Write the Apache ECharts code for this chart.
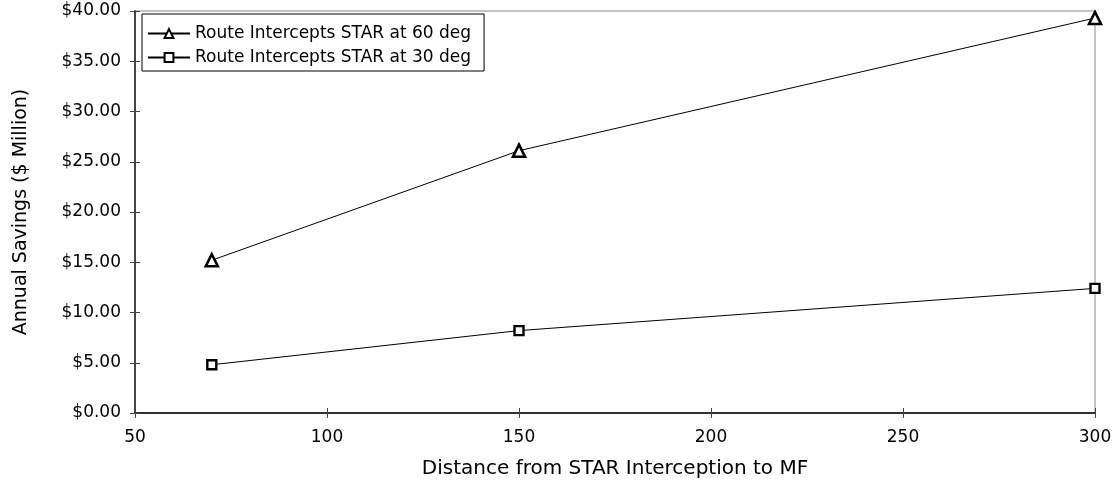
<!DOCTYPE html>
<html>
<head>
<meta charset="utf-8">
<script src="https://cdn.jsdelivr.net/npm/echarts@6/dist/echarts.min.js"></script>
<style>
  html, body { margin: 0; padding: 0; background: #fff; }
  #chart { width: 1117px; height: 486px; }
</style>
</head>
<body>
<div id="chart"></div>
<script>
// Distance from STAR interception to MF
const distances = [70, 150, 300];
// Annual savings ($ Million)
const savings60 = [15.2, 26.1, 39.3];
const savings30 = [4.8, 8.2, 12.4];
const seriesNames = ['Route Intercepts STAR at 60 deg', 'Route Intercepts STAR at 30 deg'];
const xTitle = 'Distance from STAR Interception to MF';
const yTitle = 'Annual Savings ($ Million)';

const FONT = 'DejaVu Sans';
const chart = echarts.init(document.getElementById('chart'), null, { renderer: 'canvas' });

const pairs = (xs, ys) => xs.map((x, i) => [x, ys[i]]);

const xBase = { type: 'value', min: 50, max: 300, interval: 50, splitLine: { show: false } };
const yBase = { type: 'value', min: 0, max: 40, interval: 5, splitLine: { show: false } };

chart.setOption({
  animation: false,
  backgroundColor: '#fff',
  grid: {
    left: 135, right: 22, top: 11, bottom: 73,
    outerBoundsMode: 'none',
    show: true, borderColor: '#888', borderWidth: 1
  },
  legend: {
    left: 142, top: 14, orient: 'vertical', itemGap: 7, itemWidth: 42, itemHeight: 11,
    borderColor: '#000', borderWidth: 1, padding: [11, 13, 5, 5], backgroundColor: '#fff',
    textStyle: { fontFamily: FONT, fontSize: 17, color: '#000', padding: [0, 0, 0, 0] },
    data: seriesNames
  },
  xAxis: [
    Object.assign({}, xBase, {
      name: xTitle, nameLocation: 'middle', nameGap: 46,
      nameTextStyle: { fontFamily: FONT, fontSize: 20, color: '#000' },
      axisLine: { show: true, lineStyle: { color: '#000', width: 1.5 } },
      axisTick: { show: true, length: 5, lineStyle: { color: '#444' } },
      axisLabel: { fontFamily: FONT, fontSize: 17, color: '#000', margin: 16 }
    }),
    Object.assign({}, xBase, {
      position: 'bottom',
      axisLine: { show: false },
      axisTick: { show: true, inside: true, length: 5, lineStyle: { color: '#444' } },
      axisLabel: { show: false }
    })
  ],
  yAxis: [
    Object.assign({}, yBase, {
      name: yTitle, nameLocation: 'middle', nameGap: 104, nameRotate: 90,
      nameTextStyle: { fontFamily: FONT, fontSize: 19, color: '#000' },
      axisLine: { show: true, lineStyle: { color: '#444', width: 2 } },
      axisTick: { show: true, length: 5, lineStyle: { color: '#444' } },
      axisLabel: {
        fontFamily: FONT, fontSize: 17, color: '#000', margin: 14,
        formatter: v => '$' + v.toFixed(2)
      }
    }),
    Object.assign({}, yBase, {
      position: 'left',
      axisLine: { show: false },
      axisTick: { show: true, inside: true, length: 5, lineStyle: { color: '#444' } },
      axisLabel: { show: false }
    })
  ],
  series: [
    {
      name: seriesNames[0], type: 'line', data: pairs(distances, savings60),
      symbol: 'triangle', symbolSize: 12,
      lineStyle: { color: '#000', width: 1 },
      itemStyle: { color: '#fff', borderColor: '#000', borderWidth: 2.6 }
    },
    {
      name: seriesNames[1], type: 'line', data: pairs(distances, savings30),
      symbol: 'rect', symbolSize: 9,
      lineStyle: { color: '#000', width: 1 },
      itemStyle: { color: '#fff', borderColor: '#000', borderWidth: 2.4 }
    }
  ]
});
</script>
</body>
</html>
